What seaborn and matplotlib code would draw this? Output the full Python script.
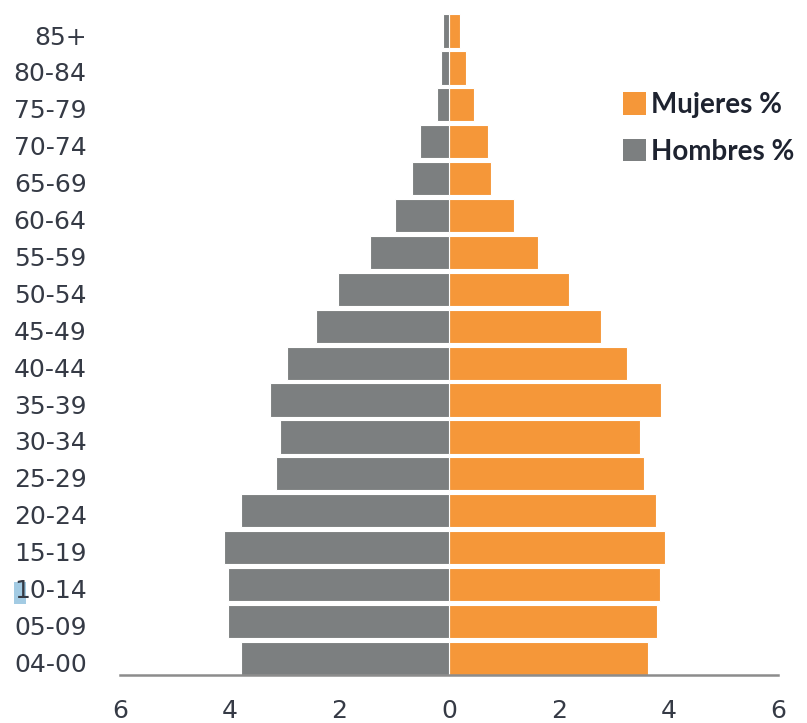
import matplotlib
matplotlib.use("Agg")
import matplotlib.pyplot as plt
import matplotlib.transforms as mtransforms
from matplotlib.patches import Patch, Rectangle
import seaborn as sns
import pandas as pd

# Age groups, oldest at the top
age_groups = ["85+", "80-84", "75-79", "70-74", "65-69", "60-64", "55-59",
              "50-54", "45-49", "40-44", "35-39", "30-34", "25-29", "20-24",
              "15-19", "10-14", "05-09", "04-00"]

# Share of total population (%)
hombres = [0.11, 0.15, 0.21, 0.53, 0.67, 0.98, 1.44, 2.03, 2.42, 2.95,
           3.26, 3.09, 3.15, 3.79, 4.10, 4.03, 4.03, 3.79]
mujeres = [0.21, 0.31, 0.45, 0.71, 0.77, 1.19, 1.62, 2.18, 2.78, 3.24,
           3.87, 3.48, 3.56, 3.77, 3.94, 3.84, 3.80, 3.63]

x_ticks = [-6, -4, -2, 0, 2, 4, 6]
x_tick_labels = ["6", "4", "2", "0", "2", "4", "6"]

series_names = ["Mujeres %", "Hombres %"]
colors = {"Mujeres %": "#f59739", "Hombres %": "#7c7f80"}

df = pd.concat([
    pd.DataFrame({"edad": age_groups, "valor": mujeres, "sexo": "Mujeres %"}),
    pd.DataFrame({"edad": age_groups, "valor": [-v for v in hombres], "sexo": "Hombres %"}),
], ignore_index=True)

sns.set_style("white")
plt.rcParams["font.family"] = ["DejaVu Sans"]

fig = plt.figure(figsize=(8.07, 7.23), dpi=100)
ax = fig.add_axes([0.1487, 0.0664, 0.8153, 0.9136])

sns.barplot(data=df, y="edad", x="valor", hue="sexo", order=age_groups,
            hue_order=series_names, palette=colors, saturation=1, orient="h",
            dodge=False, width=0.9, edgecolor="white", linewidth=0.8,
            legend=False, ax=ax)

ax.set_xlim(-6, 6)
ax.set_ylim(len(age_groups) - 0.55, -0.45)
ax.set_xlabel("")
ax.set_ylabel("")

for side in ["top", "right", "left"]:
    ax.spines[side].set_visible(False)
ax.spines["bottom"].set_color("#8c8c8c")
ax.spines["bottom"].set_linewidth(1.8)

ax.set_xticks(x_ticks)
ax.set_xticklabels(x_tick_labels)
ax.tick_params(axis="x", direction="out", length=7, width=1.5, color="#8c8c8c",
               pad=10, labelsize=18, labelcolor="#353a45")
ax.tick_params(axis="y", length=0, pad=24, labelsize=18, labelcolor="#353a45")

# nudge the age labels slightly below the bar centres
shift = mtransforms.ScaledTranslation(0, -4 / 100, fig.dpi_scale_trans)
for lbl in ax.get_yticklabels():
    lbl.set_transform(lbl.get_transform() + shift)

# text highlight behind the "1" of 10-14 (drawn beneath the axes and its labels)
fig.patches.append(Rectangle((14 / 807, 1 - 604 / 723), 12 / 807, 22 / 723,
                             transform=fig.transFigure, facecolor="#a3cbe3",
                             edgecolor="none", zorder=-1))

handles = [Patch(facecolor=colors[n], edgecolor="none") for n in series_names]
leg = fig.legend(handles, series_names, loc="upper left",
                 bbox_to_anchor=(0.758, 0.888), frameon=False,
                 handlelength=0.85, handleheight=0.85, handletextpad=0.15,
                 labelspacing=0.75, borderaxespad=0,
                 prop={"family": "Lato", "weight": "bold", "size": 20})
for t in leg.get_texts():
    t.set_color("#1e2330")

fig.savefig("out.png", dpi=100)
